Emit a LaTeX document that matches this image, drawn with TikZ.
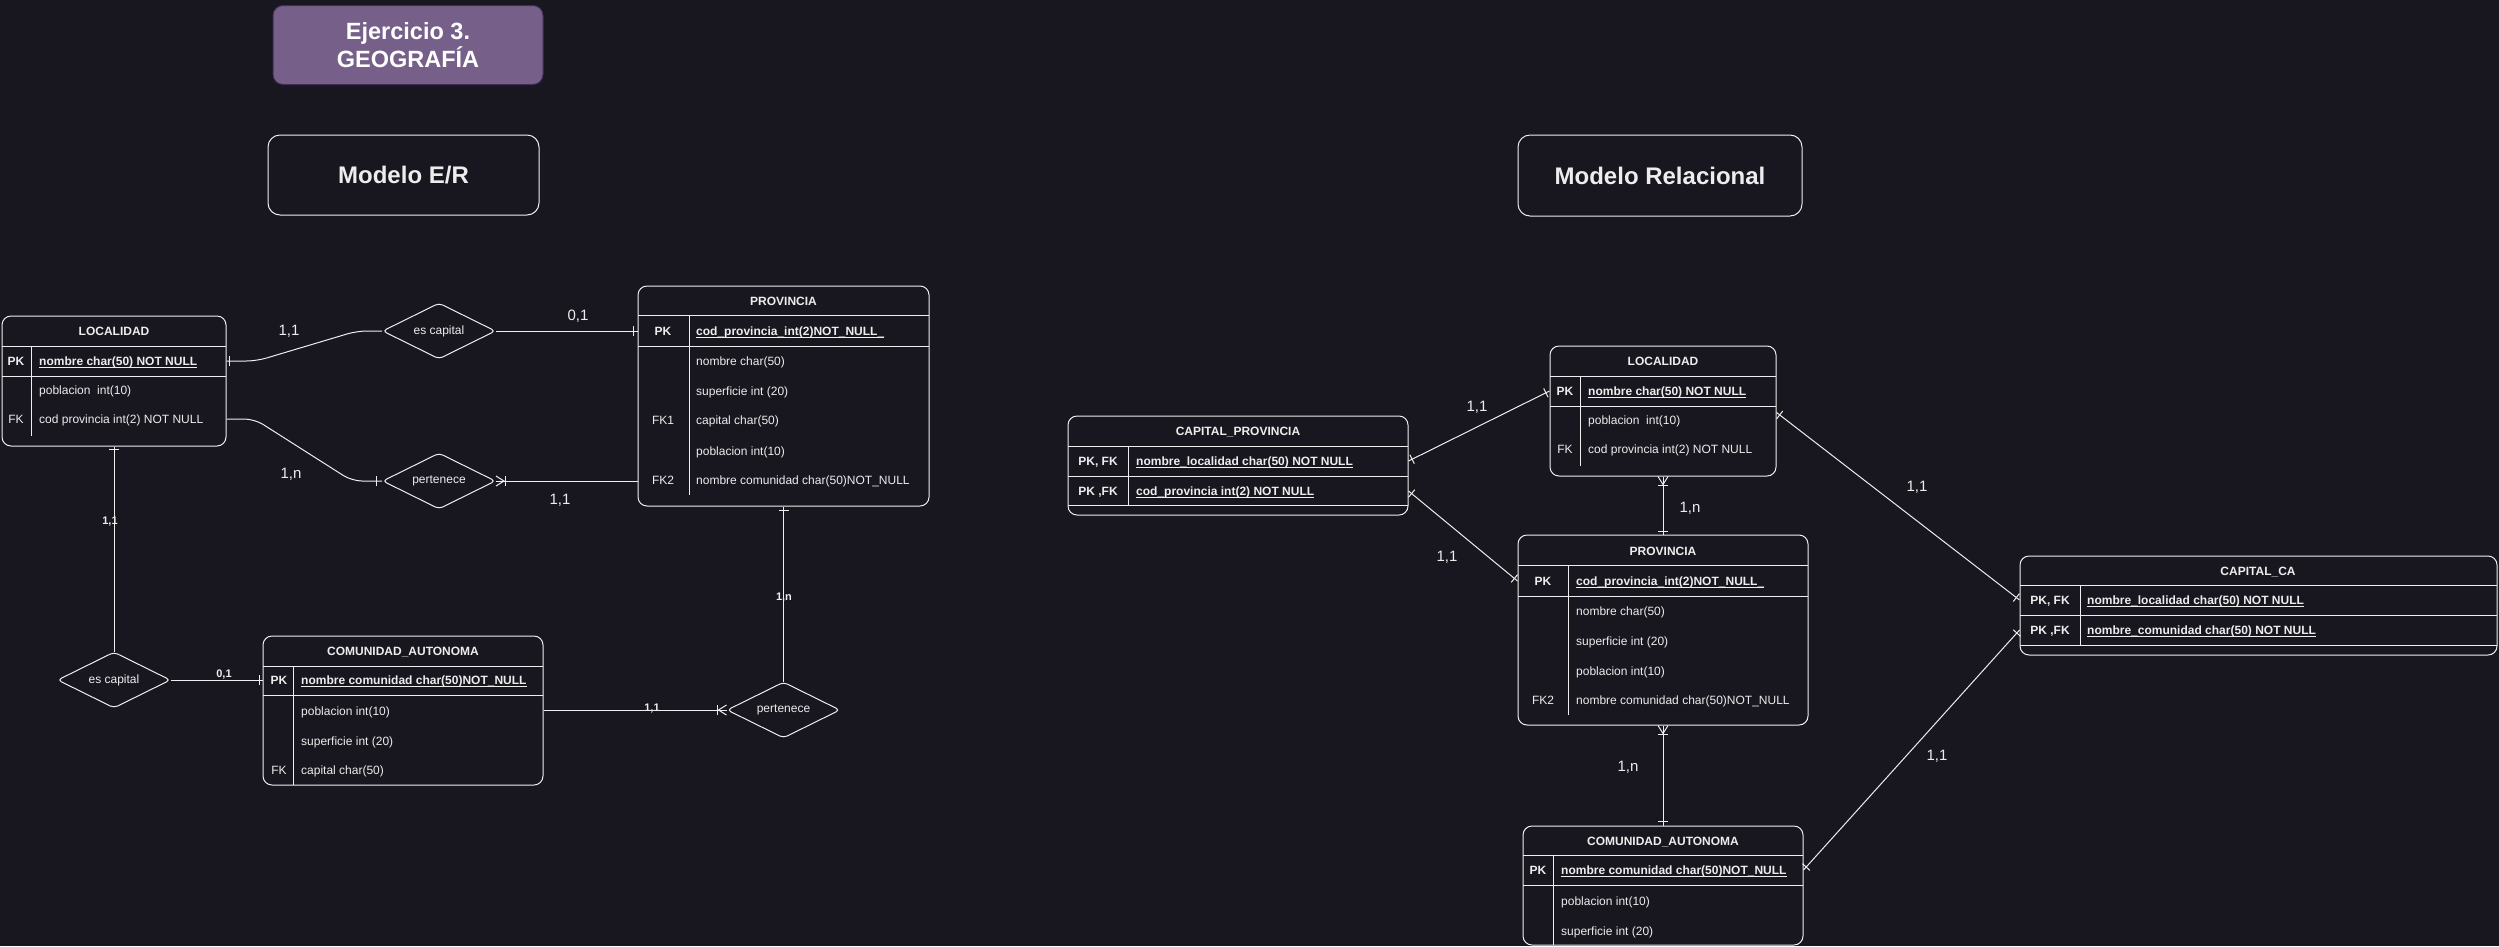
\documentclass[tikz,border=0pt]{standalone}
\usepackage{fontspec}
\setmainfont{Liberation Sans}
\usetikzlibrary{shapes.geometric,decorations.markings,calc,fit}
\definecolor{bgC}{HTML}{18161F}
\definecolor{lineC}{HTML}{EEEEEE}
\definecolor{txtC}{HTML}{EDEDED}
\definecolor{ttlFill}{HTML}{76608A}
\definecolor{ttlDraw}{HTML}{432D57}
\newsavebox\ulbox
\newcommand\myul[1]{\sbox\ulbox{#1}\rlap{\vrule height -1.4pt depth 2.4pt width\wd\ulbox}\usebox\ulbox}
\newcommand\fsz[1]{\fontsize{#1}{#1}\selectfont}
\tikzset{
  tbl/.style={draw=lineC, line width=1pt, rounded corners=9pt, inner sep=0pt},
  tline/.style={draw=lineC, line width=1pt},
  hdr/.style={text=txtC, inner sep=0pt, font=\fsz{12}\bfseries, text height=8.6pt, text depth=0pt},
  key/.style={text=txtC, inner sep=0pt, font=\fsz{12}\bfseries, text height=8.6pt, text depth=0pt},
  fkey/.style={text=txtC, inner sep=0pt, font=\fsz{12}, text height=8.6pt, text depth=0pt},
  attr/.style={text=txtC, inner sep=0pt, anchor=west, font=\fsz{12}, text height=8.6pt, text depth=0pt},
  pattr/.style={attr, font=\fsz{12}\bfseries},
  rel/.style={diamond, draw=lineC, line width=1pt, aspect=2, inner sep=0pt, minimum width=113pt, minimum height=56pt, rounded corners=4pt, text=txtC, font=\fsz{12}},
  conn/.style={draw=lineC, line width=1pt},
  lbl/.style={text=txtC, inner sep=0pt, font=\fsz{15}},
  slbl/.style={text=txtC, inner sep=0pt, font=\fsz{11}\bfseries},
  headbox/.style={draw=lineC, line width=1pt, rounded corners=12pt, text=txtC, font=\fsz{24}\bfseries},
  barS/.style={postaction={decorate,decoration={markings,mark=at position 0 with {\draw[conn] (#1,-5pt)--(#1,5pt);}}}},
  barE/.style={postaction={decorate,decoration={markings,mark=at position 1 with {\draw[conn] (-#1,-5pt)--(-#1,5pt);}}}},
  crowS/.style={postaction={decorate,decoration={markings,mark=at position 0 with {\draw[conn] (0pt,-5pt)--(8pt,0pt)--(0pt,5pt); \draw[conn] (9pt,-5pt)--(9pt,5pt);}}}},
  crowE/.style={postaction={decorate,decoration={markings,mark=at position 1 with {\draw[conn] (0pt,-5pt)--(-8pt,0pt)--(0pt,5pt); \draw[conn] (-9pt,-5pt)--(-9pt,5pt);}}}},
}
\begin{document}
\begin{tikzpicture}[x=1pt,y=-1pt]
\useasboundingbox (0,0) rectangle (2499,946);
\fill[bgC] (0,0) rectangle (2499,946);

% titles
\node[draw=ttlDraw, fill=ttlFill, line width=1pt, rounded corners=10pt, minimum width=270pt, minimum height=79pt, text=white, font=\fontsize{23.5}{28}\selectfont\bfseries, align=center] (title) at (408,45) {Ejercicio 3.\\GEOGRAFÍA};
\node[headbox, minimum width=271pt, minimum height=80pt] (hER) at (403.5,175) {Modelo E/R};
\node[headbox, minimum width=284pt, minimum height=81pt] (hRel) at (1660,175.5) {Modelo Relacional};

% ===== E/R: LOCALIDAD
\node[tbl, fit={(2,316)(226,446)}] (erLoc) {};
\node[hdr] (erLocH) at (114,331) {LOCALIDAD};
\draw[tline] (2,346)--(226,346) (2,376)--(226,376) (31,346)--(31,436);
\node[key] (erLocK1) at (16,361) {PK};
\node[pattr] (erLocA1) at (39,361) {\myul{nombre char(50) NOT NULL}};
\node[attr] (erLocA2) at (39,390) {poblacion\ \ int(10)};
\node[fkey] (erLocK3) at (16,419) {FK};
\node[attr] (erLocA3) at (39,419) {cod provincia int(2) NOT NULL};

% ===== E/R: PROVINCIA
\node[tbl, fit={(638,286)(929,506)}] (erProv) {};
\node[hdr] (erProvH) at (783.5,301) {PROVINCIA};
\draw[tline] (638,315)--(929,315) (638,346)--(929,346) (689,315)--(689,495);
\node[key] (erProvK1) at (663,331) {PK};
\node[pattr] (erProvA1) at (696,331) {\myul{cod\_provincia\_int(2)NOT\_NULL\_}};
\node[attr] (erProvA2) at (696,361) {nombre char(50)};
\node[attr] (erProvA3) at (696,391) {superficie int (20)};
\node[fkey] (erProvK4) at (663,420) {FK1};
\node[attr] (erProvA4) at (696,420) {capital char(50)};
\node[attr] (erProvA5) at (696,451) {poblacion int(10)};
\node[fkey] (erProvK6) at (663,480) {FK2};
\node[attr] (erProvA6) at (696,480) {nombre comunidad char(50)NOT\_NULL};

% ===== E/R: COMUNIDAD_AUTONOMA
\node[tbl, fit={(263,636)(543,785)}] (erCom) {};
\node[hdr] (erComH) at (403,651) {COMUNIDAD\_AUTONOMA};
\draw[tline] (263,666)--(543,666) (263,695)--(543,695) (293,666)--(293,785);
\node[key] (erComK1) at (279,680) {PK};
\node[pattr] (erComA1) at (301,680) {\myul{nombre comunidad char(50)NOT\_NULL}};
\node[attr] (erComA2) at (301,711) {poblacion int(10)};
\node[attr] (erComA3) at (301,741) {superficie int (20)};
\node[fkey] (erComK4) at (279,770) {FK};
\node[attr] (erComA4) at (301,770) {capital char(50)};

% ===== E/R relationships
\node[rel] (esc1) at (439,331) {es capital};
\node[rel] (per1) at (439,481) {pertenece};
\node[rel] (esc2) at (114,680) {es capital};
\node[rel] (per2) at (783.5,710) {pertenece};

\draw[conn, rounded corners=10pt, barS=3pt] (erLoc.east |- erLocA1) -- ++(30,0) -- ($(esc1.west)+(-25,0)$) -- (esc1.west);
\draw[conn, barE=4pt] (esc1.east) -- (erProv.west |- erProvA1);
\draw[conn, rounded corners=10pt, barE=6pt] (erLoc.east |- erLocA3) -- ++(28,0) -- ($(per1.west)+(-30,0)$) -- (per1.west);
\draw[conn, crowS] (per1.east) -- (erProv.west |- per1.east);
\draw[conn, barS=3pt] (erLoc.south) -- (esc2.north);
\draw[conn, barE=3pt] (esc2.east) -- (erCom.west |- esc2.east);
\draw[conn, crowE] (erCom.east |- per2.west) -- (per2.west);
\draw[conn, barE=4pt] (per2.north) -- (erProv.south);

\node[lbl] (l1) at (289,331) {1,1};
\node[lbl] (l2) at (578,316) {0,1};
\node[lbl] (l3) at (291,474) {1,n};
\node[lbl] (l4) at (560,500) {1,1};
\node[slbl] (l5) at (110,522) {1,1};
\node[slbl] (l6) at (224,674) {0,1};
\node[slbl] (l7) at (652,709) {1,1};
\node[slbl] (l8) at (784,598) {1,n};

% ===== Relacional: LOCALIDAD
\node[tbl, fit={(1550,346)(1776,476)}] (rLoc) {};
\node[hdr] (rLocH) at (1663,361) {LOCALIDAD};
\draw[tline] (1550,376)--(1776,376) (1550,406)--(1776,406) (1580,376)--(1580,466);
\node[key] (rLocK1) at (1565,391) {PK};
\node[pattr] (rLocA1) at (1588,391) {\myul{nombre char(50) NOT NULL}};
\node[attr] (rLocA2) at (1588,420) {poblacion\ \ int(10)};
\node[fkey] (rLocK3) at (1565,449) {FK};
\node[attr] (rLocA3) at (1588,449) {cod provincia int(2) NOT NULL};

% ===== Relacional: CAPITAL_PROVINCIA
\node[tbl, fit={(1068,416)(1408,515)}] (rCapP) {};
\node[hdr] (rCapPH) at (1238,431) {CAPITAL\_PROVINCIA};
\draw[tline] (1068,446)--(1408,446) (1068,476)--(1408,476) (1068,505)--(1408,505) (1128,446)--(1128,505);
\node[key] (rCapPK1) at (1098,461) {PK, FK};
\node[pattr] (rCapPA1) at (1136,461) {\myul{nombre\_localidad char(50) NOT NULL}};
\node[key] (rCapPK2) at (1098,491) {PK ,FK};
\node[pattr] (rCapPA2) at (1136,491) {\myul{cod\_provincia int(2) NOT NULL}};

% ===== Relacional: PROVINCIA
\node[tbl, fit={(1518,535)(1808,725)}] (rProv) {};
\node[hdr] (rProvH) at (1663,551) {PROVINCIA};
\draw[tline] (1518,565)--(1808,565) (1518,596)--(1808,596) (1568,565)--(1568,715);
\node[key] (rProvK1) at (1543,581) {PK};
\node[pattr] (rProvA1) at (1576,581) {\myul{cod\_provincia\_int(2)NOT\_NULL\_}};
\node[attr] (rProvA2) at (1576,611) {nombre char(50)};
\node[attr] (rProvA3) at (1576,641) {superficie int (20)};
\node[attr] (rProvA4) at (1576,671) {poblacion int(10)};
\node[fkey] (rProvK5) at (1543,700) {FK2};
\node[attr] (rProvA5) at (1576,700) {nombre comunidad char(50)NOT\_NULL};

% ===== Relacional: COMUNIDAD_AUTONOMA
\node[tbl, fit={(1523,826)(1803,945)}] (rCom) {};
\node[hdr] (rComH) at (1663,841) {COMUNIDAD\_AUTONOMA};
\draw[tline] (1523,855)--(1803,855) (1523,885)--(1803,885) (1553,855)--(1553,945);
\node[key] (rComK1) at (1538,870) {PK};
\node[pattr] (rComA1) at (1561,870) {\myul{nombre comunidad char(50)NOT\_NULL}};
\node[attr] (rComA2) at (1561,901) {poblacion int(10)};
\node[attr] (rComA3) at (1561,931) {superficie int (20)};

% ===== Relacional: CAPITAL_CA
\node[tbl, fit={(2020,556)(2497,655)}] (rCapCA) {};
\node[hdr] (rCapCAH) at (2258,571) {CAPITAL\_CA};
\draw[tline] (2020,585)--(2497,585) (2020,615)--(2497,615) (2020,645)--(2497,645) (2080,585)--(2080,645);
\node[key] (rCapCAK1) at (2050,600) {PK, FK};
\node[pattr] (rCapCAA1) at (2087,600) {\myul{nombre\_localidad char(50) NOT NULL}};
\node[key] (rCapCAK2) at (2050,630) {PK ,FK};
\node[pattr] (rCapCAA2) at (2087,630) {\myul{nombre\_comunidad char(50) NOT NULL}};

% ===== Relacional connectors
\draw[conn, barS=4pt, barE=4pt] (rCapP.east |- rCapPA1) -- (rLoc.west |- rLocA1);
\draw[conn, barS=4pt, barE=4pt] (rCapP.east |- rCapPA2) -- (rProv.west |- rProvA1);
\draw[conn, crowS, barE=3pt] (rLoc.south) -- (rProv.north);
\draw[conn, crowS, barE=4pt] (rProv.south) -- (rCom.north);
\draw[conn, barS=4pt, barE=4pt] ($(rLoc.north east)+(0,67)$) -- (rCapCA.west |- rCapCAA1);
\draw[conn, barS=4pt, barE=4pt] (rCom.east |- rComA1) -- (rCapCA.west |- rCapCAA2);

\node[lbl] (r1) at (1477,407) {1,1};
\node[lbl] (r2) at (1447,557) {1,1};
\node[lbl] (r3) at (1690,508) {1,n};
\node[lbl] (r4) at (1628,767) {1,n};
\node[lbl] (r5) at (1917,487) {1,1};
\node[lbl] (r6) at (1937,756) {1,1};
\end{tikzpicture}
\end{document}
